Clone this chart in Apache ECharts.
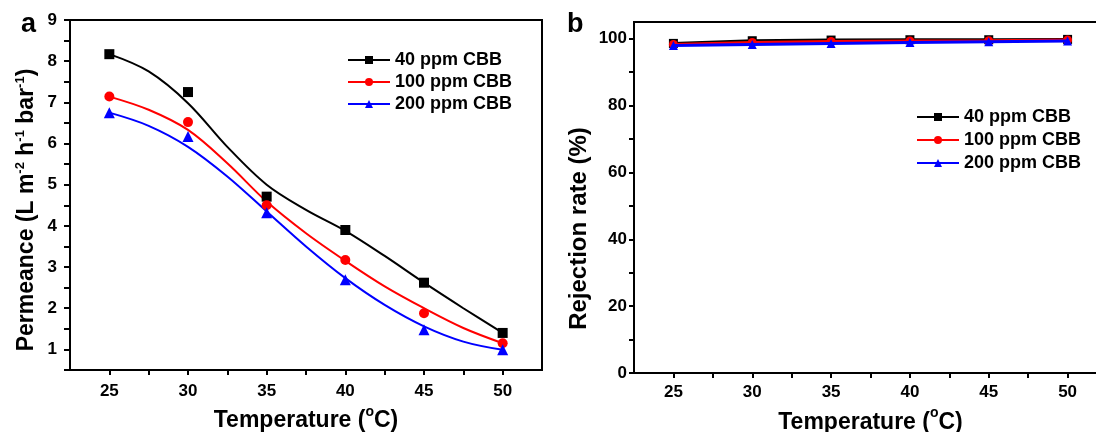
<!DOCTYPE html>
<html>
<head>
<meta charset="utf-8">
<script src="https://cdn.jsdelivr.net/npm/echarts@6/dist/echarts.min.js"></script>
<style>
html,body{margin:0;padding:0;background:#fff;}
#chart{width:1096px;height:432px;}
</style>
</head>
<body>
<div id="chart"></div>
<script>
// ---- data ----
const seriesNames = ['40 ppm CBB', '100 ppm CBB', '200 ppm CBB'];
const temps = [25, 30, 35, 40, 45, 50];
// panel a: measured permeance (L m-2 h-1 bar-1)
const perm40 = [8.17, 7.25, 4.71, 3.90, 2.62, 1.40];
const perm100 = [7.14, 6.52, 4.50, 3.17, 1.88, 1.15];
const perm200 = [6.75, 6.17, 4.32, 2.69, 1.48, 0.99];
// panel a: fitted curves
const fitTemps = [25, 27.5, 30, 32.5, 35, 37.5, 40, 42.5, 45, 47.5, 50];
const fit40 = [8.17, 7.75, 6.98, 5.92, 5.00, 4.39, 3.88, 3.27, 2.62, 2.00, 1.40];
const fit100 = [7.14, 6.82, 6.33, 5.52, 4.59, 3.82, 3.15, 2.53, 2.00, 1.52, 1.15];
const fit200 = [6.75, 6.43, 5.92, 5.20, 4.35, 3.50, 2.73, 2.08, 1.56, 1.19, 0.99];
// panel b: rejection rate (%)
const rej40 = [98.6, 99.4, 99.6, 99.7, 99.7, 99.8];
const rej100 = [98.3, 98.9, 99.2, 99.3, 99.4, 99.6];
const rej200 = [98.0, 98.3, 98.6, 98.9, 99.1, 99.3];
// tick labels
const xLabels = [25, 30, 35, 40, 45, 50];
const xTicks = [25, 27.5, 30, 32.5, 35, 37.5, 40, 42.5, 45, 47.5, 50];
const yLabelsA = [1, 2, 3, 4, 5, 6, 7, 8, 9];
const yTicksA = [0.5, 1, 1.5, 2, 2.5, 3, 3.5, 4, 4.5, 5, 5.5, 6, 6.5, 7, 7.5, 8, 8.5, 9];
const yLabelsB = [0, 20, 40, 60, 80, 100];
const yTicksB = [0, 10, 20, 30, 40, 50, 60, 70, 80, 90, 100];

// ---- styles ----
const FONT = 'Liberation Sans';
const colors = ['#000000', '#ff0000', '#0000ff'];
const symbols = ['rect', 'circle', 'triangle'];
const pair = (xs, ys) => xs.map((x, i) => [x, ys[i]]);

const axisLine = { show: true, onZero: false, lineStyle: { color: '#000', width: 2 } };
const axisTickBase = { show: true, inside: false, length: 5, lineStyle: { color: '#000', width: 2 } };
const tickLabel = { color: '#000', fontFamily: FONT, fontWeight: 'bold', fontSize: 17 };
function nameStyle(size) {
  return {
    color: '#000', fontFamily: FONT, fontWeight: 'bold', fontSize: size,
    rich: {
      sup: { fontFamily: FONT, fontWeight: 'bold', fontSize: 13, lineHeight: 13, padding: [0, 0, 12, 0], color: '#000' },
      deg: { fontFamily: FONT, fontWeight: 'bold', fontSize: 14, lineHeight: 8, padding: [0, 0, 18, 0], color: '#000' }
    }
  };
}

function xAxis(gridIndex, margin, gap) {
  return {
    type: 'value', gridIndex, min: 22.5, max: 52.5,
    axisLine, splitLine: { show: false },
    axisTick: Object.assign({}, axisTickBase, { customValues: xTicks }),
    axisLabel: Object.assign({}, tickLabel, { customValues: xLabels, margin }),
    name: 'Temperature ({deg|o}C)', nameLocation: 'middle', nameGap: gap,
    nameTextStyle: nameStyle(23)
  };
}

const fitData = [fit40, fit100, fit200];
const permData = [perm40, perm100, perm200];
const rejData = [rej40, rej100, rej200];

const series = [];
seriesNames.forEach((n, i) => {
  series.push({
    name: n, type: 'line', xAxisIndex: 0, yAxisIndex: 0,
    data: pair(fitTemps, fitData[i]), smooth: 0.35,
    symbol: symbols[i], symbolSize: 10, showSymbol: false,
    lineStyle: { color: colors[i], width: 2 }, itemStyle: { color: colors[i], opacity: 1 },
    z: 2, silent: true
  });
});
seriesNames.forEach((n, i) => {
  series.push({
    name: n + ' data', type: 'scatter', xAxisIndex: 0, yAxisIndex: 0,
    data: pair(temps, permData[i]),
    symbol: symbols[i], symbolSize: i === 2 ? 11 : 10,
    itemStyle: { color: colors[i], opacity: 1 }, z: 3
  });
});
seriesNames.forEach((n, i) => {
  series.push({
    name: 'b:' + n, type: 'line', xAxisIndex: 1, yAxisIndex: 1,
    data: pair(temps, rejData[i]),
    symbol: symbols[i], symbolSize: 9, showSymbol: true,
    lineStyle: { color: colors[i], width: 3 }, itemStyle: { color: colors[i], opacity: 1 },
    z: 2 + i
  });
});

const legendText = { color: '#000', fontFamily: FONT, fontWeight: 'bold', fontSize: 18, lineHeight: 18 };

const option = {
  backgroundColor: '#ffffff',
  animation: false,
  title: [
    { text: 'a', left: 16, top: 6, textStyle: { fontFamily: FONT, fontWeight: 'bold', fontSize: 27, color: '#000' } },
    { text: 'b', left: 562, top: 6, textStyle: { fontFamily: FONT, fontWeight: 'bold', fontSize: 27, color: '#000' } }
  ],
  grid: [
    { left: 70, top: 20, width: 472, height: 350, outerBoundsMode: 'none', containLabel: false,
      show: true, borderColor: '#000', borderWidth: 2, backgroundColor: 'transparent' },
    { left: 634, top: 22, width: 473, height: 351, outerBoundsMode: 'none', containLabel: false,
      show: true, borderColor: '#000', borderWidth: 2, backgroundColor: 'transparent' }
  ],
  legend: [
    {
      data: seriesNames, left: 342, top: 46, orient: 'vertical',
      itemWidth: 42, itemHeight: 10, itemGap: 4, textStyle: legendText
    },
    {
      data: seriesNames.map(n => 'b:' + n), left: 911, top: 103, orient: 'vertical',
      itemWidth: 42, itemHeight: 10, itemGap: 5, textStyle: legendText,
      formatter: n => n.replace('b:', '')
    }
  ],
  xAxis: [xAxis(0, 13, 37), xAxis(1, 11, 38)],
  yAxis: [
    {
      type: 'value', gridIndex: 0, min: 0.5, max: 9,
      axisLine, splitLine: { show: false },
      axisTick: Object.assign({}, axisTickBase, { customValues: yTicksA, length: 6 }),
      axisLabel: Object.assign({}, tickLabel, { customValues: yLabelsA, margin: 13 }),
      name: 'Permeance (L m{sup|-2} h{sup|-1} bar{sup|-1})', nameLocation: 'middle', nameGap: 32,
      nameTextStyle: Object.assign(nameStyle(23), { padding: [0, 30, 0, 0] })
    },
    {
      type: 'value', gridIndex: 1, min: 0, max: 105,
      axisLine, splitLine: { show: false },
      axisTick: Object.assign({}, axisTickBase, { customValues: yTicksB }),
      axisLabel: Object.assign({}, tickLabel, { customValues: yLabelsB, margin: 7 }),
      name: 'Rejection rate (%)', nameLocation: 'middle', nameGap: 43,
      nameTextStyle: Object.assign(nameStyle(24), { padding: [0, 62, 0, 0] })
    }
  ],
  series
};

const chart = echarts.init(document.getElementById('chart'), null, { renderer: 'canvas' });
chart.setOption(option);
</script>
</body>
</html>
